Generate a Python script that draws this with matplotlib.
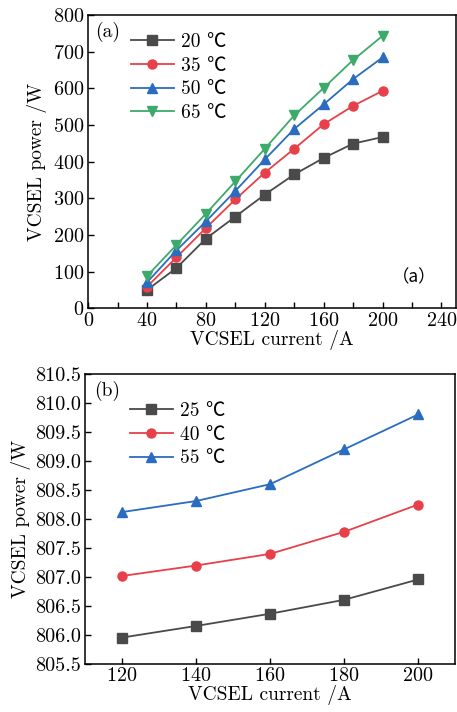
import numpy as np
import matplotlib
matplotlib.use("Agg")
import matplotlib.pyplot as plt

plt.rcParams['font.family'] = ['cmr10', 'Noto Sans CJK SC', 'DejaVu Sans']
plt.rcParams['mathtext.fontset'] = 'cm'
plt.rcParams['axes.formatter.use_mathtext'] = True
plt.rcParams['axes.unicode_minus'] = False

# panel (a) data
current_a = [40, 60, 80, 100, 120, 140, 160, 180, 200]
power_20 = [50, 110, 190, 250, 310, 365, 410, 449, 467]
power_35 = [59, 139, 219, 297, 370, 435, 502, 552, 593]
power_50 = [71, 158, 237, 320, 406, 489, 556, 625, 684]
power_65 = [88, 173, 258, 346, 435, 526, 601, 677, 743]
labels_a = ['20 ℃', '35 ℃', '50 ℃', '65 ℃']

# panel (b) data
current_b = [120, 140, 160, 180, 200]
power_25 = [805.96, 806.16, 806.37, 806.61, 806.96]
power_40 = [807.02, 807.20, 807.40, 807.78, 808.25]
power_55 = [808.12, 808.31, 808.60, 809.20, 809.80]
labels_b = ['25 ℃', '40 ℃', '55 ℃']

colors = ['#4a4a4a', '#e8404a', '#2a6cbf', '#3caa6a']
markers = ['s', 'o', '^', 'v']

fig = plt.figure(figsize=(4.57, 7.12), dpi=100)
ax1 = fig.add_axes([0.193, 0.567, 0.805, 0.412])
ax2 = fig.add_axes([0.186, 0.067, 0.810, 0.408])

fs = 14.5
lfs = 14

for ys, lab, c, m in zip([power_20, power_35, power_50, power_65], labels_a, colors, markers):
    ax1.plot(current_a, ys, color=c, marker=m, markersize=6.5, linewidth=1.3, label=lab)
ax1.set_xlim(0, 250)
ax1.set_ylim(0, 800)
ax1.set_xticks(np.arange(0, 241, 40))
ax1.set_xticks(np.arange(20, 241, 40), minor=True)
ax1.set_yticks(np.arange(0, 801, 100))
ax1.set_xlabel('VCSEL current /A', fontsize=lfs, labelpad=0)
ax1.set_ylabel('VCSEL power /W', fontsize=lfs, labelpad=4)
ax1.text(0.02, 0.975, '(a)', transform=ax1.transAxes, fontsize=lfs, va='top', ha='left')
ax1.text(0.885, 0.105, '（a）', transform=ax1.transAxes, fontsize=12.5,
         family=['Noto Sans CJK SC'], va='center', ha='center')
ax1.legend(loc='upper left', bbox_to_anchor=(0.095, 0.965), frameon=False, fontsize=lfs,
           handlelength=2.2, handletextpad=0.4, labelspacing=0.3, borderaxespad=0)

for ys, lab, c, m in zip([power_25, power_40, power_55], labels_b, colors, markers):
    ax2.plot(current_b, ys, color=c, marker=m, markersize=6.5, linewidth=1.3, label=lab)
ax2.set_xlim(110, 210)
ax2.set_ylim(805.5, 810.5)
ax2.set_xticks(current_b)
ax2.set_yticks(np.arange(805.5, 810.51, 0.5))
ax2.yaxis.set_major_formatter(matplotlib.ticker.FormatStrFormatter('%.1f'))
ax2.set_xlabel('VCSEL current /A', fontsize=lfs, labelpad=0)
ax2.set_ylabel('VCSEL power /W', fontsize=lfs, labelpad=3)
ax2.text(0.025, 0.975, '(b)', transform=ax2.transAxes, fontsize=lfs, va='top', ha='left')
ax2.legend(loc='upper left', bbox_to_anchor=(0.1, 0.93), frameon=False, fontsize=lfs,
           handlelength=2.2, handletextpad=0.4, labelspacing=0.3, borderaxespad=0)

for ax in (ax1, ax2):
    ax.tick_params(axis='both', which='both', direction='in', labelsize=fs, length=4, width=1,
                   top=False, right=False, pad=3)
    for s in ax.spines.values():
        s.set_linewidth(1.1)
ax2.tick_params(axis='x', pad=2)

fig.savefig('out.png', dpi=100)
